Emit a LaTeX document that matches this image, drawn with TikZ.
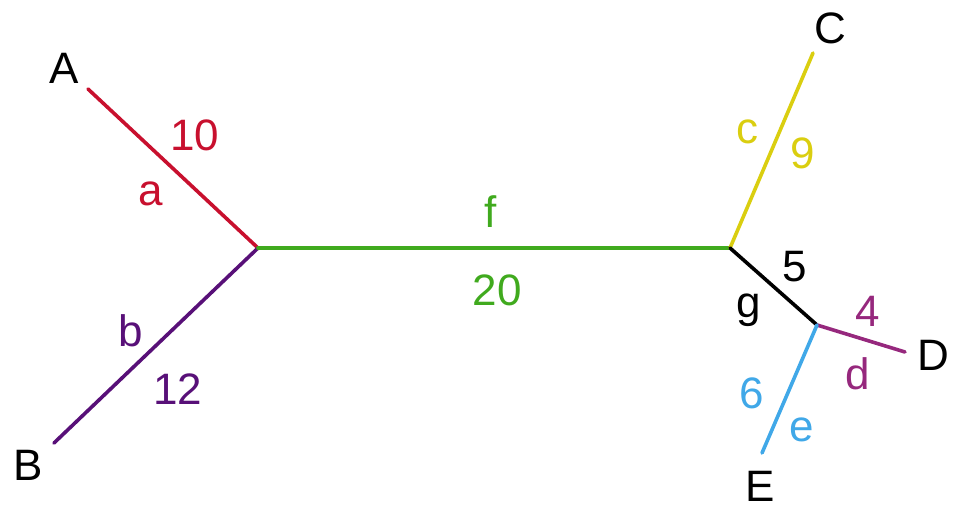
\documentclass[tikz,border=0pt]{standalone}
\usepackage{fontspec}
\setmainfont{Liberation Sans}
\usetikzlibrary{positioning,calc}

\definecolor{brred}{RGB}{200,16,46}
\definecolor{brpurple}{RGB}{88,16,120}
\definecolor{brgreen}{RGB}{64,170,30}
\definecolor{bryellow}{RGB}{218,206,16}
\definecolor{brmagenta}{RGB}{150,40,125}
\definecolor{brblue}{RGB}{64,168,232}

\begin{document}
\begin{tikzpicture}[x=0.5pt, y=-0.5pt,
    branch/.style={line width=1.8pt, line cap=round},
    leaf/.style={font=\fontsize{22}{24}\selectfont, text=black, inner sep=0pt},
    blabel/.style={font=\fontsize{22}{24}\selectfont, inner sep=0pt}
  ]
    \useasboundingbox (0,0) rectangle (956,509);

    % Internal nodes
    \coordinate (left) at (258,248);
    \coordinate (right) at (730,248);
    \coordinate (inner) at (817,325);

    % Leaf ends
    \coordinate (endA) at (88,89);
    \coordinate (endB) at (54,443);
    \coordinate (endC) at (813,53);
    \coordinate (endD) at (905,352);
    \coordinate (endE) at (762,453);

    % Leaf names
    \node[leaf] (A) at (64,68) {A};
    \node[leaf] (B) at (28,465) {B};
    \node[leaf] (C) at (830,28) {C};
    \node[leaf] (D) at (933,355) {D};
    \node[leaf] (E) at (760,486) {E};

    % Branches
    \draw[branch, brred] (endA) -- (left);
    \draw[branch, brpurple] (endB) -- (left);
    \draw[branch, brgreen] (left) -- (right);
    \draw[branch, bryellow] (right) -- (endC);
    \draw[branch, black] (right) -- (inner);
    \draw[branch, brmagenta] (inner) -- (endD);
    \draw[branch, brblue] (inner) -- (endE);

    % Branch names and lengths
    \node[blabel, text=brred] (lenA) at (195,135) {10};
    \node[blabel, text=brred] (nameA) at (151,194) {a};
    \node[blabel, text=brpurple] (nameB) at (131,331) {b};
    \node[blabel, text=brpurple] (lenB) at (178,389) {12};
    \node[blabel, text=brgreen] (nameF) at (491,212) {f};
    \node[blabel, text=brgreen] (lenF) at (497,290) {20};
    \node[blabel, text=bryellow] (nameC) at (747,132) {c};
    \node[blabel, text=bryellow] (lenC) at (803,153) {9};
    \node[blabel] (lenG) at (795,267) {5};
    \node[blabel] (nameG) at (749,310) {g};
    \node[blabel, text=brmagenta] (lenD) at (868,311) {4};
    \node[blabel, text=brmagenta] (nameD) at (858,374) {d};
    \node[blabel, text=brblue] (lenE) at (752,393) {6};
    \node[blabel, text=brblue] (nameE) at (802,430) {e};
\end{tikzpicture}
\end{document}
